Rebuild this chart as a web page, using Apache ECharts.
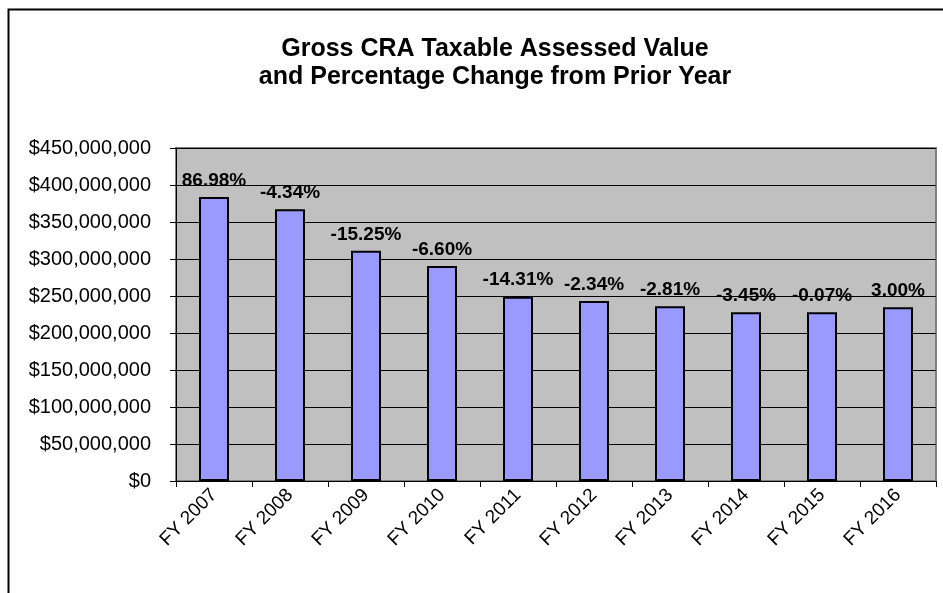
<!DOCTYPE html>
<html>
<head>
<meta charset="utf-8">
<title>Gross CRA Taxable Assessed Value</title>
<script src="https://cdn.jsdelivr.net/npm/echarts@6/dist/echarts.min.js"></script>
<style>
  html, body { margin: 0; padding: 0; background: #fff; }
  #main { width: 943px; height: 593px; }
</style>
</head>
<body>
<div id="main"></div>
<script type="text/javascript">
// data
var years = ['FY 2007', 'FY 2008', 'FY 2009', 'FY 2010', 'FY 2011',
             'FY 2012', 'FY 2013', 'FY 2014', 'FY 2015', 'FY 2016'];
var assessedValue = [383800000, 367100000, 311100000, 290600000, 249000000,
                     243200000, 236300000, 228200000, 228000000, 234800000];
var pctChange = ['86.98%', '-4.34%', '-15.25%', '-6.60%', '-14.31%',
                 '-2.34%', '-2.81%', '-3.45%', '-0.07%', '3.00%'];

var myChart = echarts.init(document.getElementById('main'));

function money(v) {
    return '$' + String(v).replace(/\B(?=(\d{3})+(?!\d))/g, ',');
}

var option = {
    animation: false,
    textStyle: { fontFamily: 'Liberation Sans, Arial, sans-serif' },
    title: {
        text: 'Gross CRA Taxable Assessed Value\nand Percentage Change from Prior Year',
        left: 490,
        textAlign: 'center',
        top: 30,
        textStyle: { fontSize: 25, fontWeight: 'bold', color: '#000', lineHeight: 28 }
    },
    // outer chart frame (only top and left edges show)
    graphic: [{
        type: 'rect',
        shape: { x: 8.5, y: 9.5, width: 960, height: 620 },
        style: { fill: null, stroke: '#000', lineWidth: 2 }
    }],
    grid: {
        left: 176, right: 7, top: 148, bottom: 112,
        show: true,
        backgroundColor: '#c0c0c0',
        borderColor: '#808080',
        borderWidth: 2
    },
    xAxis: {
        type: 'category',
        data: years,
        axisLine: { lineStyle: { color: '#000', width: 1 } },
        axisTick: { show: true, length: 6, lineStyle: { color: '#000' } },
        axisLabel: { rotate: 45, fontSize: 19, color: '#000', margin: 11 }
    },
    yAxis: {
        type: 'value',
        min: 0, max: 450000000, interval: 50000000,
        axisLine: { show: true, lineStyle: { color: '#000' } },
        axisTick: { show: true, length: 6, lineStyle: { color: '#000' } },
        splitLine: { lineStyle: { color: '#000', width: 1 } },
        axisLabel: { fontSize: 20, color: '#000', margin: 25, formatter: money }
    },
    series: [{
        type: 'bar',
        data: assessedValue,
        barWidth: 30,
        itemStyle: { color: '#9999ff', borderColor: '#000', borderWidth: 2 },
        label: {
            show: true,
            position: 'top',
            distance: 7,
            fontSize: 19,
            fontWeight: 'bold',
            color: '#000',
            formatter: function (p) { return pctChange[p.dataIndex]; }
        }
    }]
};

myChart.setOption(option);
</script>
</body>
</html>
